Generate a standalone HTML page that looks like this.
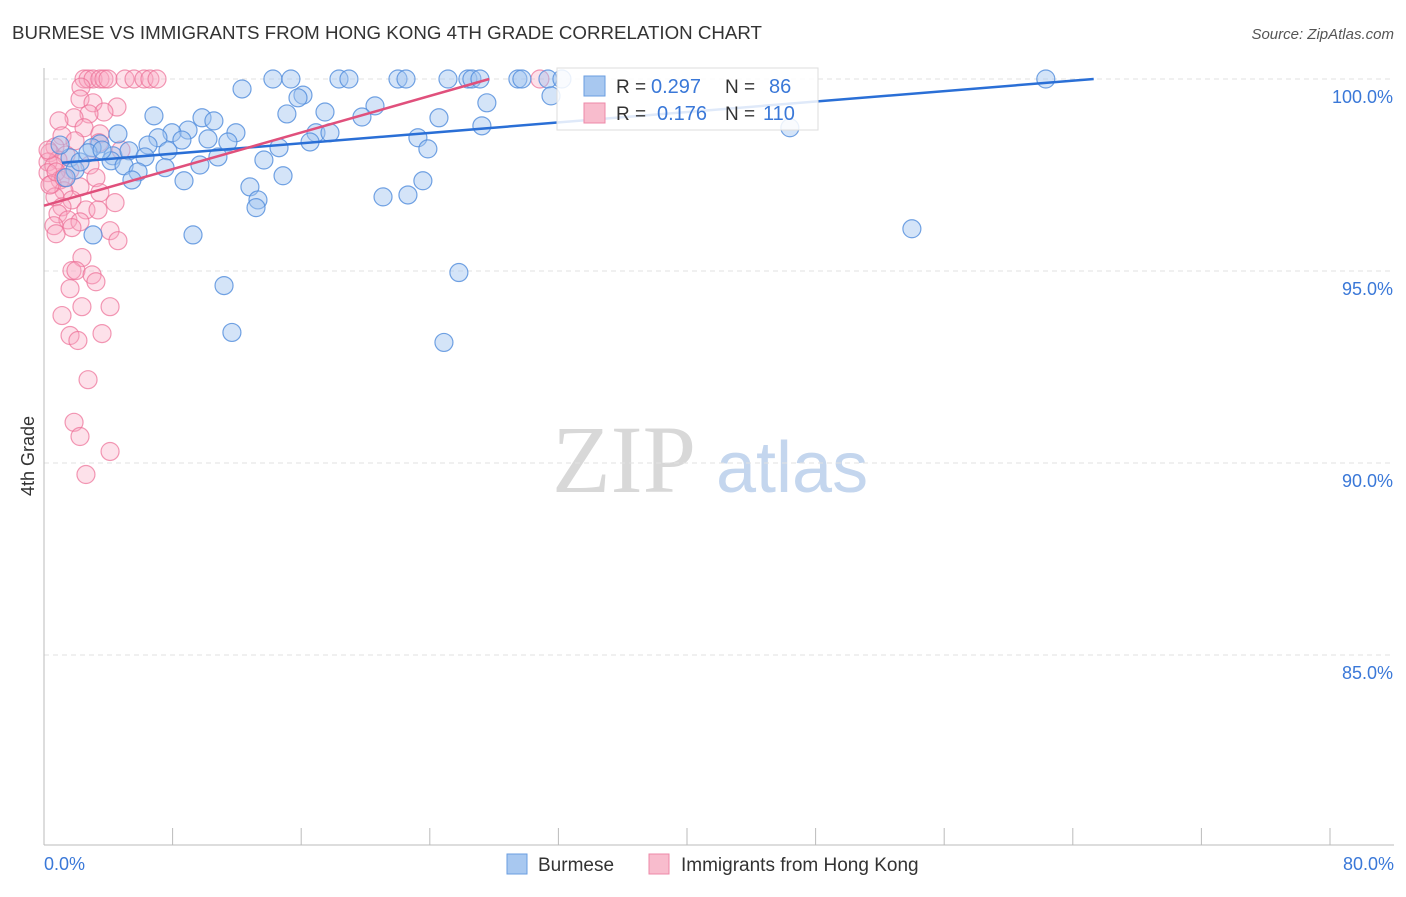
<!DOCTYPE html>
<html><head><meta charset="utf-8"><style>
body{margin:0;background:#fff;width:1406px;height:892px;overflow:hidden;font-family:"Liberation Sans",sans-serif}
</style></head><body>
<svg id="chart" width="1406" height="892" xmlns="http://www.w3.org/2000/svg">
<text x="12" y="39" font-size="18" fill="#333" textLength="750" lengthAdjust="spacingAndGlyphs">BURMESE VS IMMIGRANTS FROM HONG KONG 4TH GRADE CORRELATION CHART</text>
<text x="1394" y="39" font-size="15" fill="#555" text-anchor="end" font-style="italic">Source: ZipAtlas.com</text>
<g>
<text x="552" y="492" font-family="Liberation Serif,serif" font-size="96" fill="#d8d8d8">ZIP</text>
<text x="716" y="492" font-size="72" fill="#c4d6ee">atlas</text>
</g>
<g id="grid"></g>
<g id="axes"></g>
<g id="points"></g>
<g id="trends"></g>
<text transform="translate(34,456) rotate(-90)" font-size="18" fill="#333" text-anchor="middle">4th Grade</text>
<g>
<rect x="557" y="68" width="261" height="62" fill="rgba(255,255,255,0.85)" stroke="#ddd"/>
<rect x="584" y="76" width="21" height="20" fill="#a8c8f0" stroke="#6a9ee0"/>
<text x="616" y="93" font-size="19" fill="#333">R =</text>
<text x="651" y="93" font-size="20" fill="#3a78d8">0.297</text>
<text x="725" y="93" font-size="19" fill="#333">N =</text>
<text x="769" y="93" font-size="20" fill="#3a78d8">86</text>
<rect x="584" y="103" width="21" height="20" fill="#f8bccd" stroke="#ee88a8"/>
<text x="616" y="120" font-size="19" fill="#333">R =</text>
<text x="657" y="120" font-size="20" fill="#3a78d8">0.176</text>
<text x="725" y="120" font-size="19" fill="#333">N =</text>
<text x="763" y="120" font-size="20" fill="#3a78d8">110</text>
</g>
<g>
<rect x="507" y="854" width="20" height="20" fill="#a8c8f0" stroke="#6a9ee0"/>
<text x="538" y="871" font-size="19" fill="#333">Burmese</text>
<rect x="649" y="854" width="20" height="20" fill="#f8bccd" stroke="#ee88a8"/>
<text x="681" y="871" font-size="19" fill="#333">Immigrants from Hong Kong</text>
</g>
</svg>
<script>
const yTicks=[100,95,90,85];
const xTickLabels=["0.0%","80.0%"];
const blueX=[14.24,15.36,18.35,18.97,22.02,22.52,25.13,26.37,26.62,27.12,29.48,29.73,31.35,32.22,62.32,12.32,16.11,15.80,31.54,27.55,6.84,17.48,20.59,9.83,10.57,24.57,4.60,8.96,7.96,7.09,11.94,10.20,8.58,16.92,17.79,19.78,27.24,15.11,23.26,16.55,11.44,6.47,3.48,14.62,23.88,46.40,1.62,2.99,4.29,5.29,6.28,7.71,10.82,13.68,4.17,4.98,5.85,7.53,9.70,12.81,14.87,8.71,5.47,1.93,23.57,21.09,22.64,13.31,13.19,53.99,3.05,9.27,25.81,11.20,11.69,24.88,1.0,2.24,2.74,3.61,1.37];
const blueY=[100,100,100,100,100,100,100,100,100,100,100,100,100,100,100,99.74,99.58,99.51,99.56,99.38,99.04,99.14,99.30,98.99,98.91,98.99,98.57,98.67,98.60,98.47,98.60,98.44,98.41,98.60,98.60,99.01,98.78,99.09,98.47,98.36,98.36,98.28,98.31,98.21,98.18,98.73,97.95,98.21,98.00,98.13,97.97,98.13,97.97,97.89,97.87,97.74,97.58,97.69,97.76,97.19,97.48,97.35,97.37,97.63,97.35,96.93,96.98,96.85,96.65,96.10,95.94,95.94,94.96,94.62,93.40,93.14,98.28,97.84,98.08,98.15,97.43];
const pinkX=[2.49,2.74,3.05,3.48,3.73,3.98,5.04,5.6,6.22,6.59,7.03,30.85,2.30,2.24,3.05,4.54,3.73,2.80,1.87,0.93,2.49,3.48,1.12,1.93,3.42,4.79,0.68,0.37,1.37,0.87,0.25,2.86,0.62,1.62,0.25,3.23,1.00,0.50,2.24,1.24,3.48,0.68,1.74,4.42,1.12,2.61,3.36,0.87,1.49,2.24,0.62,1.74,4.11,0.75,4.60,2.36,1.74,1.99,2.99,3.23,1.62,4.11,2.36,1.12,1.62,3.61,2.11,2.74,1.87,2.24,4.11,2.61,0.25,0.37,0.75,1.24];
const pinkY=[100,100,100,100,100,100,100,100,100,100,100,100,99.79,99.48,99.38,99.27,99.14,99.09,98.99,98.91,98.73,98.57,98.52,98.39,98.34,98.15,98.23,98.08,98.02,97.89,97.84,97.76,97.74,97.63,97.56,97.43,97.37,97.27,97.19,97.09,97.04,96.93,96.85,96.78,96.67,96.59,96.59,96.49,96.33,96.28,96.18,96.13,96.05,95.97,95.79,95.35,95.01,95.01,94.90,94.72,94.54,94.07,94.07,93.84,93.32,93.37,93.19,92.17,91.06,90.69,90.30,89.70,98.15,97.24,97.58,97.43];
const blueTrend=[[1.12,97.82],[65.3,100]];
const pinkTrend=[[0,96.7],[27.7,100]];

const NS="http://www.w3.org/2000/svg";
const X=v=>44+v/80*1286;
const Y=v=>79+(100-v)*38.4;
function mk(tag,attrs,parent){const e=document.createElementNS(NS,tag);for(const k in attrs)e.setAttribute(k,attrs[k]);document.getElementById(parent).appendChild(e);return e;}
yTicks.forEach(t=>{
 const l=mk('line',{x1:44,x2:1394,y1:Y(t),y2:Y(t),stroke:'#e2e2e2','stroke-dasharray':'5,4'},'grid');
 
 
 const tx=mk('text',{x:1393,y:Y(t)+24,'font-size':18,fill:'#3a78d8','text-anchor':'end'},'axes');
 tx.textContent=t.toFixed(1)+'%';
 
 
});
const ax=mk('line',{x1:44,x2:44,y1:68,y2:845,stroke:'#bbb'},'axes');


const bx=mk('line',{x1:44,x2:1394,y1:845,y2:845,stroke:'#bbb'},'axes');


for(let i=0;i<=10;i++){const t=mk('line',{x1:X(i*8),x2:X(i*8),y1:828,y2:845,stroke:'#bbb'},'axes');
 
 }
const xl0=mk('text',{x:44,y:870,'font-size':18,fill:'#3a78d8'},'axes');xl0.textContent=xTickLabels[0];


const xl1=mk('text',{x:1394,y:870,'font-size':18,fill:'#3a78d8','text-anchor':'end'},'axes');xl1.textContent=xTickLabels[1];


pinkX.forEach((v,i)=>{const c=mk('circle',{cx:X(v),cy:Y(pinkY[i]),r:9,fill:'rgba(248,170,195,0.35)',stroke:'rgba(236,110,150,0.7)','stroke-width':1.2},'points');
 
 });
blueX.forEach((v,i)=>{const c=mk('circle',{cx:X(v),cy:Y(blueY[i]),r:9,fill:'rgba(160,196,240,0.45)',stroke:'rgba(80,140,220,0.8)','stroke-width':1.2},'points');
 
 });
const bt=mk('line',{x1:X(blueTrend[0][0]),y1:Y(blueTrend[0][1]),x2:X(blueTrend[1][0]),y2:Y(blueTrend[1][1]),stroke:'#2a6fd6','stroke-width':2.5},'trends');


const pt=mk('line',{x1:X(pinkTrend[0][0]),y1:Y(pinkTrend[0][1]),x2:X(pinkTrend[1][0]),y2:Y(pinkTrend[1][1]),stroke:'#e0507c','stroke-width':2.5},'trends');


</script>
</body></html>
